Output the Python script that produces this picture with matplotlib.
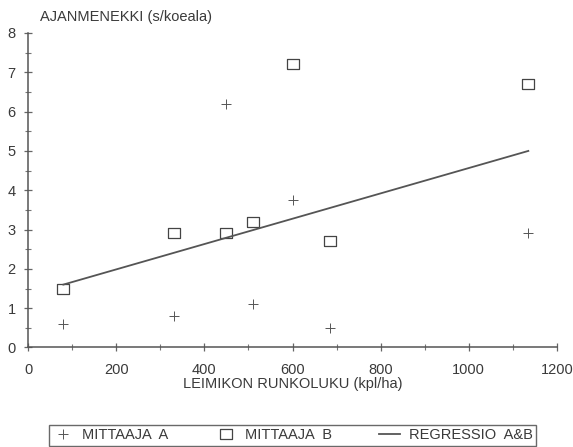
import matplotlib.pyplot as plt
from matplotlib.ticker import MultipleLocator

plt.rcParams['font.family'] = ['Liberation Sans', 'DejaVu Sans']

# Runkoluku (kpl/ha) ja ajanmenekki (s/koeala) mittaajittain
runkoluku = [80, 330, 450, 510, 600, 685, 1135]
mittaaja_a = [0.6, 0.8, 6.2, 1.1, 3.75, 0.5, 2.9]
mittaaja_b = [1.5, 2.9, 2.9, 3.2, 7.2, 2.7, 6.7]

# Yhteisen regressiosuoran päätepisteet
regressio_x = [80, 1135]
regressio_y = [1.6, 5.0]

ink = '#3a3a3a'
rect = [(-1.3, -1), (1.3, -1), (1.3, 1), (-1.3, 1), (-1.3, -1)]

fig = plt.figure(figsize=(5.73, 4.47), dpi=100)
ax = fig.add_axes([0.049, 0.2226, 0.923, 0.7036])

ax.plot(runkoluku, mittaaja_a, linestyle='none', marker='+', markersize=7.5,
        markeredgewidth=0.7, color='#555555', label='MITTAAJA  A')
ax.plot(runkoluku, mittaaja_b, linestyle='none', marker=rect, markersize=8.6,
        markerfacecolor='white', markeredgewidth=0.9, color='#444444',
        label='MITTAAJA  B')
ax.plot(regressio_x, regressio_y, color='#555555', linewidth=1.3,
        label='REGRESSIO  A&B')

ax.set_xlim(0, 1200)
ax.set_ylim(0, 8)
ax.xaxis.set_major_locator(MultipleLocator(200))
ax.xaxis.set_minor_locator(MultipleLocator(100))
ax.yaxis.set_major_locator(MultipleLocator(1))
ax.yaxis.set_minor_locator(MultipleLocator(0.5))

for side in ['top', 'right']:
    ax.spines[side].set_visible(False)
for side in ['left', 'bottom']:
    ax.spines[side].set_color('#555555')
    ax.spines[side].set_linewidth(1.1)

ax.tick_params(which='major', direction='inout', length=6, width=0.9,
               color='#666666', labelsize=10.5, labelcolor=ink)
ax.tick_params(which='minor', direction='inout', length=4, width=0.8,
               color='#777777')
ax.tick_params(axis='x', pad=8)
ax.tick_params(axis='y', pad=6)
ax.get_xticklabels()[0].set_fontweight('bold')

ax.set_xlabel('LEIMIKON RUNKOLUKU (kpl/ha)', fontsize=10.5, color=ink,
              labelpad=0)
fig.text(0.07, 0.962, 'AJANMENEKKI (s/koeala)', fontsize=10.5, color=ink,
         va='center')

leg = fig.legend(loc='lower left', bbox_to_anchor=(0.0855, 0.002, 0.85, 0.050),
                 mode='expand', ncol=3, fontsize=10.5, frameon=True,
                 fancybox=False, handlelength=1.4, handletextpad=0.6,
                 borderaxespad=0, borderpad=0.25)
leg.get_frame().set_edgecolor('#444444')
leg.get_frame().set_linewidth(1.0)
for t in leg.get_texts():
    t.set_color(ink)

fig.savefig('out.png', dpi=100)
